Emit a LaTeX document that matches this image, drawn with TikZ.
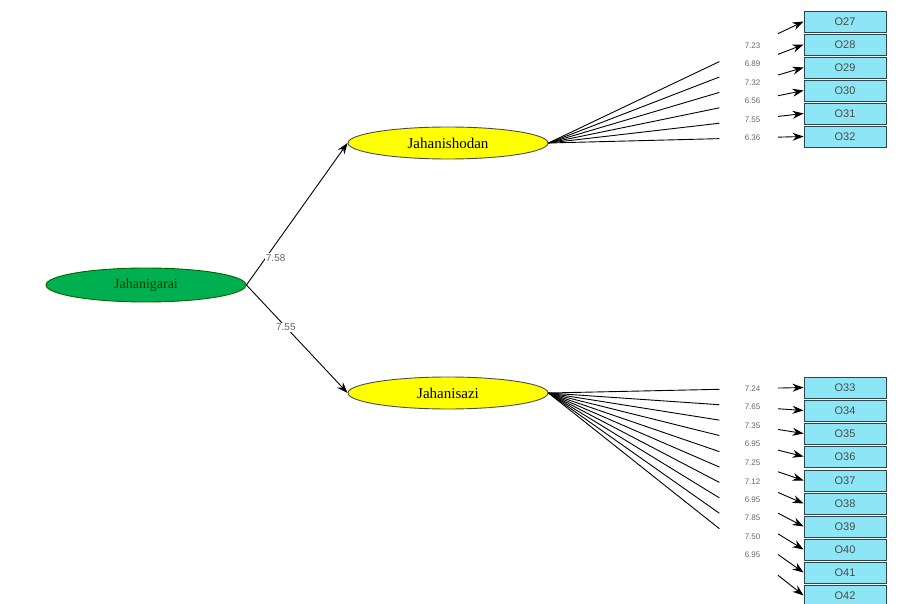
\documentclass[tikz,border=0pt]{standalone}
\usepackage{fontspec}
\setmainfont{Liberation Serif}
\setsansfont{Liberation Sans}
\usetikzlibrary{shapes.geometric,calc,arrows.meta}

\definecolor{latgreen}{RGB}{0,176,80}
\definecolor{latyellow}{RGB}{255,255,0}
\definecolor{obscyan}{RGB}{140,230,245}
\definecolor{obsline}{RGB}{45,70,80}

\tikzset{every path/.style={line width=0.9pt}}
\tikzset{
  lat/.style={ellipse,draw=black!70,fill=latyellow,minimum width=200pt,minimum height=32pt,
    inner sep=0pt,font=\fontsize{15}{16}\selectfont},
  obs/.style={rectangle,draw=obsline,fill=obscyan,minimum width=82pt,minimum height=21pt,
    inner sep=0pt,font=\sffamily\fontsize{11}{12}\selectfont,text=black!70},
  tval/.style={font=\sffamily\fontsize{8}{9}\selectfont,text=black!60,inner sep=1pt}
}

\begin{document}
\begin{tikzpicture}[x=1pt,y=-1pt,>={Stealth[length=11pt,width=8pt]}]
    \useasboundingbox (0,0) rectangle (918,604);
    \node[ellipse,draw=green!40!black,fill=latgreen,minimum width=200pt,minimum height=34pt,
      inner sep=0pt,text=green!25!black,font=\fontsize{14}{15}\selectfont] (garai) at (146,285) {Jahanigarai};
    \node[lat] (shod) at (448,143) {Jahanishodan};
    \node[lat] (sazi) at (448,393) {Jahanisazi};

    \node[obs] (o27) at (845,21.5) {O27};
    \node[obs] (o28) at (845,44.5) {O28};
    \node[obs] (o29) at (845,67.5) {O29};
    \node[obs] (o30) at (845,90.5) {O30};
    \node[obs] (o31) at (845,113.5) {O31};
    \node[obs] (o32) at (845,136.5) {O32};

    \node[obs] (o33) at (845,387.5) {O33};
    \node[obs] (o34) at (845,410.5) {O34};
    \node[obs] (o35) at (845,433.5) {O35};
    \node[obs] (o36) at (845,456.5) {O36};
    \node[obs] (o37) at (845,480.5) {O37};
    \node[obs] (o38) at (845,503.5) {O38};
    \node[obs] (o39) at (845,526.5) {O39};
    \node[obs] (o40) at (845,549.5) {O40};
    \node[obs] (o41) at (845,572.5) {O41};
    \node[obs] (o42) at (845,595.5) {O42};

    % second order paths
    \draw[->] (garai.east) -- node[tval,font=\sffamily\fontsize{10}{11}\selectfont,pos=0.19,fill=white,xshift=10pt] {7.58} (shod.west);
    \draw[->] (garai.east) -- node[tval,font=\sffamily\fontsize{10}{11}\selectfont,pos=0.39,fill=white] {7.55} (sazi.west);

    % Jahanishodan indicators
    \coordinate (js) at (shod.east);
    \draw (js) -- ($(js)!.67!(o27.west)$); \draw[->] ($(js)!.9!(o27.west)$) -- (o27.west);
    \node[tval] at ($(js)!.8!(o27.west)$) {7.23};
    \draw (js) -- ($(js)!.67!(o28.west)$); \draw[->] ($(js)!.9!(o28.west)$) -- (o28.west);
    \node[tval] at ($(js)!.8!(o28.west)$) {6.89};
    \draw (js) -- ($(js)!.67!(o29.west)$); \draw[->] ($(js)!.9!(o29.west)$) -- (o29.west);
    \node[tval] at ($(js)!.8!(o29.west)$) {7.32};
    \draw (js) -- ($(js)!.67!(o30.west)$); \draw[->] ($(js)!.9!(o30.west)$) -- (o30.west);
    \node[tval] at ($(js)!.8!(o30.west)$) {6.56};
    \draw (js) -- ($(js)!.67!(o31.west)$); \draw[->] ($(js)!.9!(o31.west)$) -- (o31.west);
    \node[tval] at ($(js)!.8!(o31.west)$) {7.55};
    \draw (js) -- ($(js)!.67!(o32.west)$); \draw[->] ($(js)!.9!(o32.west)$) -- (o32.west);
    \node[tval] at ($(js)!.8!(o32.west)$) {6.36};

    % Jahanisazi indicators
    \coordinate (jz) at (sazi.east);
    \draw (jz) -- ($(jz)!.67!(o33.west)$); \draw[->] ($(jz)!.9!(o33.west)$) -- (o33.west);
    \node[tval] at ($(jz)!.8!(o33.west)$) {7.24};
    \draw (jz) -- ($(jz)!.67!(o34.west)$); \draw[->] ($(jz)!.9!(o34.west)$) -- (o34.west);
    \node[tval] at ($(jz)!.8!(o34.west)$) {7.65};
    \draw (jz) -- ($(jz)!.67!(o35.west)$); \draw[->] ($(jz)!.9!(o35.west)$) -- (o35.west);
    \node[tval] at ($(jz)!.8!(o35.west)$) {7.35};
    \draw (jz) -- ($(jz)!.67!(o36.west)$); \draw[->] ($(jz)!.9!(o36.west)$) -- (o36.west);
    \node[tval] at ($(jz)!.8!(o36.west)$) {6.95};
    \draw (jz) -- ($(jz)!.67!(o37.west)$); \draw[->] ($(jz)!.9!(o37.west)$) -- (o37.west);
    \node[tval] at ($(jz)!.8!(o37.west)$) {7.25};
    \draw (jz) -- ($(jz)!.67!(o38.west)$); \draw[->] ($(jz)!.9!(o38.west)$) -- (o38.west);
    \node[tval] at ($(jz)!.8!(o38.west)$) {7.12};
    \draw (jz) -- ($(jz)!.67!(o39.west)$); \draw[->] ($(jz)!.9!(o39.west)$) -- (o39.west);
    \node[tval] at ($(jz)!.8!(o39.west)$) {6.95};
    \draw (jz) -- ($(jz)!.67!(o40.west)$); \draw[->] ($(jz)!.9!(o40.west)$) -- (o40.west);
    \node[tval] at ($(jz)!.8!(o40.west)$) {7.85};
    \draw (jz) -- ($(jz)!.67!(o41.west)$); \draw[->] ($(jz)!.9!(o41.west)$) -- (o41.west);
    \node[tval] at ($(jz)!.8!(o41.west)$) {7.50};
    \draw (jz) -- ($(jz)!.67!(o42.west)$); \draw[->] ($(jz)!.9!(o42.west)$) -- (o42.west);
    \node[tval] at ($(jz)!.8!(o42.west)$) {6.95};
\end{tikzpicture}
\end{document}
